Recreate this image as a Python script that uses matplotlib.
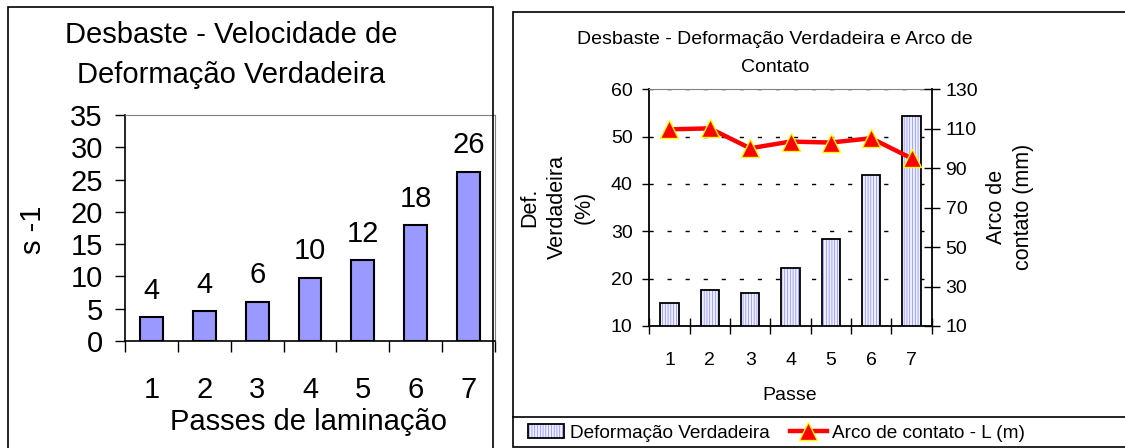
import matplotlib.pyplot as plt
from matplotlib.patches import Rectangle
from matplotlib.lines import Line2D

plt.rcParams['font.family'] = ['Liberation Sans', 'DejaVu Sans']
plt.rcParams['hatch.linewidth'] = 0.45

# dados - grafico da esquerda
passes = [1, 2, 3, 4, 5, 6, 7]
velocidade = [3.7, 4.6, 6.1, 9.8, 12.5, 17.9, 26.2]
velocidade_rotulos = ['4', '4', '6', '10', '12', '18', '26']

# dados - grafico da direita
deformacao = [14.8, 17.5, 16.9, 22.3, 28.3, 41.8, 54.3]
arco_contato = [109.7, 110.2, 100.1, 103.5, 103.0, 105.2, 95.0]

W, H = 1125, 448
fig = plt.figure(figsize=(W / 100, H / 100), dpi=100)


def fx(px):
    return px / W


def fy(py):
    return 1 - py / H


# molduras
fig.patches.append(Rectangle((fx(8), fy(449)), fx(493) - fx(8), fy(7) - fy(449),
                             transform=fig.transFigure, fill=False, lw=1.2, ec='black'))
fig.patches.append(Rectangle((fx(513), fy(447)), fx(1126) - fx(513), fy(12) - fy(447),
                             transform=fig.transFigure, fill=False, lw=1.2, ec='black'))
fig.lines.append(Line2D([fx(513), fx(1125)], [fy(417), fy(417)],
                        transform=fig.transFigure, lw=1.2, color='black'))

# ---- grafico 1: velocidade de deformacao ----
ax1 = fig.add_axes([fx(125), fy(341), fx(495) - fx(125), fy(115) - fy(341)])
ax1.bar(passes, velocidade, width=0.43, color='#9999ff', edgecolor='black', lw=1.5, zorder=3)
for x, v, t in zip(passes, velocidade, velocidade_rotulos):
    ax1.annotate(t, (x, v), xytext=(0, 9), textcoords='offset points',
                 ha='center', va='bottom', fontsize=21)
ax1.set_xlim(0.5, 7.5)
ax1.set_ylim(0, 35)
ax1.set_yticks(range(0, 36, 5))
ax1.set_xticks([p + 0.5 for p in [0] + passes])
ax1.set_xticklabels([])
ax1.set_xticks(passes, minor=True)
ax1.set_xticklabels([str(p) for p in passes], minor=True)
ax1.tick_params(axis='x', which='major', direction='out', length=8, width=1)
ax1.tick_params(axis='x', which='minor', length=0, pad=25, labelsize=21)
ax1.tick_params(axis='y', direction='out', length=7, width=1, pad=9, labelsize=21)
for s in ['top', 'right']:
    ax1.spines[s].set_color('#808080')
ax1.spines['left'].set_linewidth(1.2)
ax1.spines['bottom'].set_linewidth(1.2)
fig.text(fx(231), fy(55), 'Desbaste - Velocidade de\nDeformação Verdadeira',
         ha='center', va='center', fontsize=21, linespacing=1.55)
fig.text(fx(33), fy(230), 's -1', rotation=90, ha='center', va='center', fontsize=21)
fig.text(fx(309), fy(422), 'Passes de laminação', ha='center', va='center', fontsize=21)

# ---- grafico 2: deformacao verdadeira e arco de contato ----
ax2 = fig.add_axes([fx(649.3), fy(326), fx(931.7) - fx(649.3), fy(89.3) - fy(326)])
ax2.set_axisbelow(True)
b1 = ax2.bar(passes, deformacao, width=0.45, color='#eef0ff', edgecolor='#7a7aff',
             lw=0, hatch='||||||', zorder=2)
b2 = ax2.bar(passes, deformacao, width=0.45, color='none', edgecolor='black', lw=1.3, zorder=3)
ax2.set_xlim(0.5, 7.5)
ax2.set_ylim(10, 60)
ax2.set_yticks(range(10, 61, 10))
ax2.yaxis.grid(True, color='black', lw=1, linestyle=(0, (3, 10)))
ax2.set_xticks([p + 0.5 for p in [0] + passes])
ax2.set_xticklabels([])
ax2.set_xticks(passes, minor=True)
ax2.set_xticklabels([str(p) for p in passes], minor=True)
ax2.tick_params(axis='x', which='major', direction='inout', length=12, width=1)
ax2.tick_params(axis='x', which='minor', length=0, pad=19, labelsize=14)
ax2.tick_params(axis='y', direction='out', length=5, width=1, pad=7, labelsize=14)
ax2.spines['top'].set_color('#808080')
ax2.spines['right'].set_visible(False)
for s in ['left', 'bottom']:
    ax2.spines[s].set_linewidth(1.3)

ax3 = ax2.twinx()
ln, = ax3.plot(passes, arco_contato, color='#ff0000', lw=3.2, marker='^', markersize=13,
               markerfacecolor='#ff0000', markeredgecolor='#ffff00', mew=1, zorder=4)
ax3.set_ylim(10, 130)
ax3.set_yticks(range(10, 131, 20))
ax3.tick_params(axis='y', direction='inout', length=12, width=1, pad=4, labelsize=14)
ax3.spines['right'].set_linewidth(1.3)
for s in ['top', 'left', 'bottom']:
    ax3.spines[s].set_visible(False)

fig.text(fx(775), fy(53.5), 'Desbaste - Deformação Verdadeira e Arco de\nContato',
         ha='center', va='center', fontsize=14, linespacing=1.85)
fig.text(fx(557), fy(207), 'Def.\nVerdadeira\n(%)', rotation=90, ha='center', va='center',
         fontsize=15.5, linespacing=1.4)
fig.text(fx(1010), fy(207), 'Arco de\ncontato (mm)', rotation=90, ha='center', va='center',
         fontsize=15.5, linespacing=1.4)
fig.text(fx(790), fy(395), 'Passe', ha='center', va='center', fontsize=14)

fig.legend([(b1[0], b2[0]), ln], ['Deformação Verdadeira', 'Arco de contato - L (m)'],
           loc='center', bbox_to_anchor=(fx(776.5), fy(433)), ncol=2, frameon=False,
           fontsize=13.7, handlelength=1.9, handletextpad=0.3, columnspacing=1.1,
           borderpad=0)

fig.savefig('out.png', dpi=100)
